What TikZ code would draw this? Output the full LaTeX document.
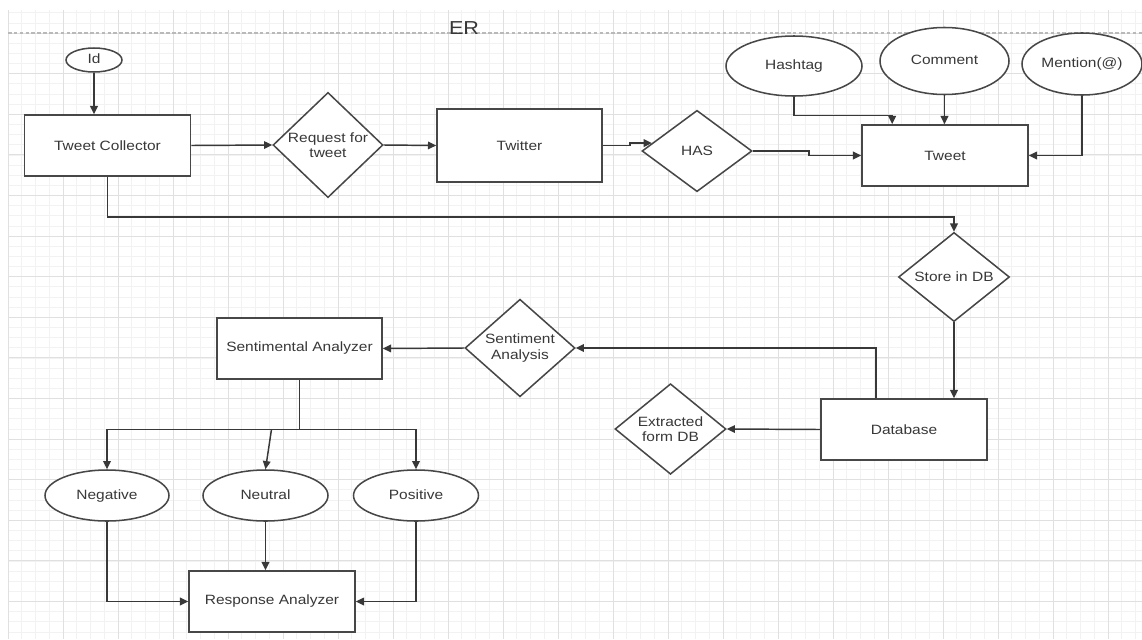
\documentclass[tikz,border=0pt]{standalone}
\usepackage{fontspec}
\setmainfont{Liberation Sans}[FakeStretch=1.15]
\usetikzlibrary{shapes.geometric,arrows.meta,calc}

\begin{document}
\begin{tikzpicture}[x=0.03cm,y=-0.03cm,
		every node/.style={font=\fontsize{11.5}{13}\selectfont,text=black!78},
		entity/.style={draw=black!72,line width=1.4pt,fill=white,minimum width=4.98cm,minimum height=1.83cm,inner sep=0pt},
		attribute/.style={ellipse,draw=black!72,line width=1.3pt,fill=white,inner sep=0pt,text height=1.7ex,text depth=0.5ex},
		relation/.style={diamond,draw=black!72,line width=1.3pt,fill=white,align=center,inner sep=0pt,minimum width=3.3cm,minimum height=2.44cm},
		link/.style={draw=black!78,line width=1.25pt,-{Triangle[length=7pt,width=6.5pt]}}]

		\useasboundingbox (0,0) rectangle (1142,639);
		\fill[white] (0,0) rectangle (1142,639);

		\foreach \i in {0,...,82}
		{
			\draw[gray!10,line width=0.5pt] ({8+13.75*\i},10) -- ({8+13.75*\i},639);
		}
		\foreach \j in {0,...,61}
		{
			\draw[gray!10,line width=0.5pt] (8,{12.7+10.15*\j}) -- (1142,{12.7+10.15*\j});
		}
		\foreach \i in {0,...,20}
		{
			\draw[gray!24,line width=0.6pt] ({8+55*\i},10) -- ({8+55*\i},639);
		}
		\foreach \j in {0,...,14}
		{
			\draw[gray!24,line width=0.6pt] (8,{33+40.6*\j}) -- (1142,{33+40.6*\j});
		}
		\draw[gray!55,line width=1pt,dash pattern=on 3pt off 2pt] (8,33) -- (1142,33);

		\node[font=\fontsize{16}{18}\selectfont] (title) at (464,28) {ER};

		\node[attribute,minimum width=1.68cm,minimum height=0.72cm] (id) at (94,60) {Id};
		\node[entity] (collector) at (107.5,145.5) {Tweet Collector};
		\node[relation] (request) at (328,145) {Request for\\tweet};
		\node[entity,minimum width=4.95cm,minimum height=2.19cm] (twitter) at (519.5,145.5) {Twitter};
		\node[relation] (has) at (697,151) {HAS};
		\node[entity] (tweet) at (945,155.5) {Tweet};
		\node[attribute,minimum width=4.08cm,minimum height=1.8cm] (hashtag) at (794,66) {Hashtag};
		\node[attribute,minimum width=3.87cm,minimum height=2.01cm] (comment) at (944.5,61) {Comment};
		\node[attribute,minimum width=3.6cm,minimum height=1.86cm] (mention) at (1082,64) {Mention(@)};

		\node[relation,minimum width=3.33cm,minimum height=2.4cm] (store) at (954,277) {Store in DB};
		\node[entity] (database) at (904,429.5) {Database};
		\node[relation,minimum width=3.33cm,minimum height=2.4cm] (extracted) at (670.5,429) {Extracted\\form DB};
		\node[relation] (sentiment) at (520,348) {Sentiment\\Analysis};
		\node[entity,minimum width=4.95cm] (analyzer) at (299.5,348.5) {Sentimental Analyzer};

		\node[attribute,minimum width=3.72cm,minimum height=1.53cm] (negative) at (107,495.5) {Negative};
		\node[attribute,minimum width=3.75cm,minimum height=1.53cm] (neutral) at (265.5,495.5) {Neutral};
		\node[attribute,minimum width=3.75cm,minimum height=1.53cm] (positive) at (416,495.5) {Positive};
		\node[entity] (response) at (272,601.5) {Response Analyzer};

		\coordinate (hashin) at ($(tweet.north west)+(31,0)$);
		\coordinate (dbout) at ($(database.north west)+(56,0)$);
		\coordinate (split) at ($(analyzer.south)+(0,49.5)$);
		\coordinate (fork) at ($(split)+(-28,0)$);

		\draw[link] (id.south) -- (id.south |- collector.north);
		\draw[link] (collector.east) -- (request.west);
		\draw[link] (request.east) -- (twitter.west);
		\draw[link] (twitter.east) -- ++(27,0) |- (has.170);
		\draw[link] (has.east) -- ++(56,0) |- (tweet.west);
		\draw[link] (hashtag.south) -- ++(0,19) -| (hashin);
		\draw[link] (comment.south) -- (comment.south |- tweet.north);
		\draw[link] (mention.south) |- (tweet.east);

		\draw[link] (collector.south) -- ++(0,40) -| (store.north);
		\draw[link] (store.south) -- (store.south |- database.north);
		\draw[link] (database.west) -- (extracted.east);
		\draw[link] (dbout) |- (sentiment.east);
		\draw[link] (sentiment.west) -- (analyzer.east);

		\draw[draw=black!78,line width=1.25pt] (analyzer.south) -- (split);
		\draw[link] (split) -| (negative.north);
		\draw[link] (split) -| (positive.north);
		\draw[link] (fork) -- (neutral.north);
		\draw[link] (neutral.south) -- (neutral.south |- response.north);
		\draw[link] (negative.south) |- (response.west);
		\draw[link] (positive.south) |- (response.east);

	\end{tikzpicture}
\end{document}
